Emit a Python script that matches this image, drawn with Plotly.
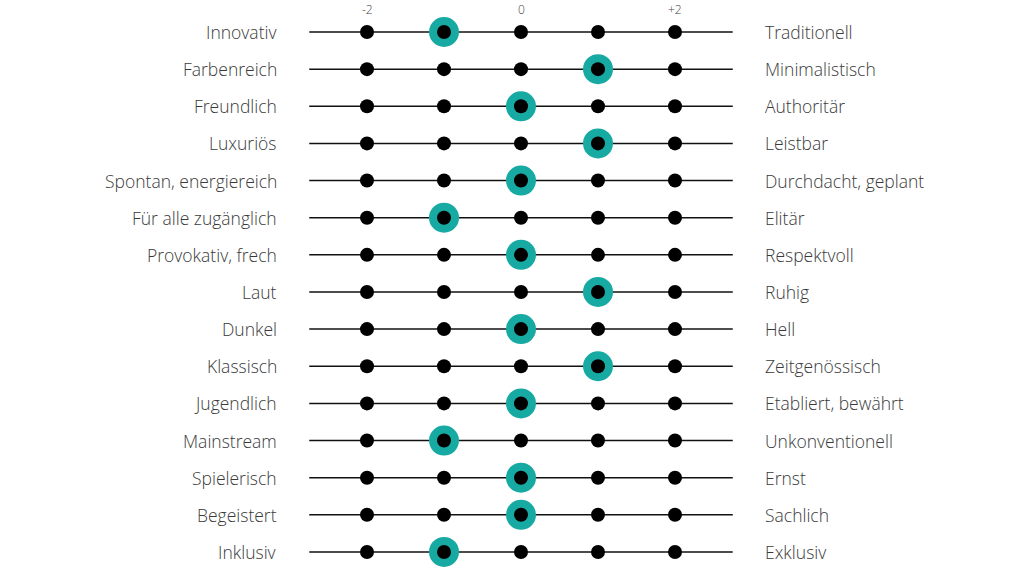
import plotly.graph_objects as go

left_labels = ["Innovativ", "Farbenreich", "Freundlich", "Luxuriös", "Spontan, energiereich",
               "Für alle zugänglich", "Provokativ, frech", "Laut", "Dunkel", "Klassisch",
               "Jugendlich", "Mainstream", "Spielerisch", "Begeistert", "Inklusiv"]
right_labels = ["Traditionell", "Minimalistisch", "Authoritär", "Leistbar", "Durchdacht, geplant",
                "Elitär", "Respektvoll", "Ruhig", "Hell", "Zeitgenössisch",
                "Etabliert, bewährt", "Unkonventionell", "Ernst", "Sachlich", "Exklusiv"]
values = [-1, 1, 0, 1, 0, -1, 0, 1, 0, 1, 0, -1, 0, 0, -1]
scale_points = [-2, -1, 0, 1, 2]
tick_vals = [-2, 0, 2]
tick_text = ["-2", "0", "+2"]

n = len(left_labels)
rows = list(range(n))

X0 = 521
DX = 77
Y0 = 32
DY = 37.14
W, H = 1024, 576

fig = go.Figure()

lx, ly = [], []
for r in rows:
    lx += [-2.75, 2.75, None]
    ly += [r, r, None]
fig.add_trace(go.Scatter(x=lx, y=ly, mode="lines", line=dict(color="#111111", width=1.5),
                         hoverinfo="skip", showlegend=False))

fig.add_trace(go.Scatter(x=values, y=rows, mode="markers",
                         marker=dict(size=30, color="#17aaa2"), showlegend=False))

dx, dy = [], []
for r in rows:
    for p in scale_points:
        dx.append(p)
        dy.append(r)
fig.add_trace(go.Scatter(x=dx, y=dy, mode="markers",
                         marker=dict(size=14, color="#000000"), showlegend=False))

font = dict(family="'Open Sans', sans-serif", size=17.5, color="#3a3a3a", weight=300)
ann = []
for r in rows:
    ann.append(dict(x=(279 - X0) / DX, y=r, text=left_labels[r], xanchor="right", yanchor="middle",
                    showarrow=False, font=font, xref="x", yref="y"))
    ann.append(dict(x=(763 - X0) / DX, y=r, text=right_labels[r], xanchor="left", yanchor="middle",
                    showarrow=False, font=font, xref="x", yref="y"))
for v, t in zip(tick_vals, tick_text):
    ann.append(dict(x=v, y=(9 - Y0) / DY, text=t, xanchor="center", yanchor="middle",
                    showarrow=False, font=dict(family="'Open Sans', sans-serif", size=12, color="#444444", weight=300),
                    xref="x", yref="y"))

fig.update_layout(
    width=W, height=H,
    margin=dict(l=0, r=0, t=0, b=0),
    paper_bgcolor="white", plot_bgcolor="white",
    xaxis=dict(range=[-X0 / DX, (W - X0) / DX], visible=False, fixedrange=True),
    yaxis=dict(range=[(H - Y0) / DY, -Y0 / DY], visible=False, fixedrange=True),
    annotations=ann,
    hovermode=False,
)

fig.write_html("out.html", config={"displayModeBar": False},
               post_script="document.body.style.margin='0px';document.body.style.overflow='hidden';")
